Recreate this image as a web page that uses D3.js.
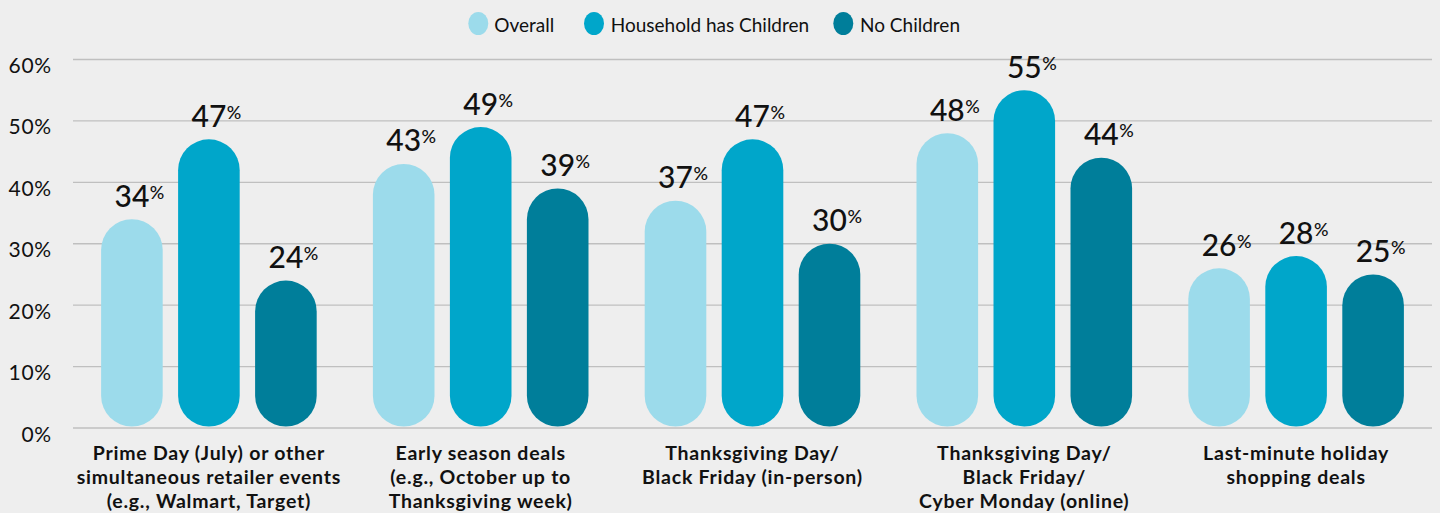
<!DOCTYPE html>
<html>
<head>
<meta charset="utf-8">
<script src="https://cdn.jsdelivr.net/npm/d3@7"></script>
<style>
  html, body { margin: 0; padding: 0; background: #eeeeee; }
  svg { display: block; }
  text { font-family: Lato, "Noto Sans", sans-serif; fill: #111; }
</style>
</head>
<body>
<svg id="chart" width="1440" height="513"></svg>
<script>
// Holiday shopping event participation by household type
const categories = [
  ["Prime Day (July) or other", "simultaneous retailer events", "(e.g., Walmart, Target)"],
  ["Early season deals", "(e.g., October up to", "Thanksgiving week)"],
  ["Thanksgiving Day/", "Black Friday (in-person)"],
  ["Thanksgiving Day/", "Black Friday/", "Cyber Monday (online)"],
  ["Last-minute holiday", "shopping deals"]
];
const seriesNames = ["Overall", "Household has Children", "No Children"];
const overall = [34, 43, 37, 48, 26];
const withChildren = [47, 49, 47, 55, 28];
const noChildren = [24, 39, 30, 44, 25];
const yTicks = [0, 10, 20, 30, 40, 50, 60];
const colors = ["#9cdbeb", "#00a6ca", "#007e9a"];

const seriesValues = [overall, withChildren, noChildren];
const rows = categories.map((c, i) => ({
  idx: i,
  lines: c,
  values: seriesValues.map((s, k) => ({ k, v: s[i] }))
}));

const svg = d3.select("#chart");
const plotLeft = 73, plotRight = 1432, plotTop = 59.5, plotBottom = 428;

const x0 = d3.scaleBand().domain(d3.range(categories.length)).range([plotLeft, plotRight]).padding(0);
const x1 = d3.scaleBand().domain(d3.range(seriesNames.length))
  .range([0, x0.bandwidth()]).paddingInner(0.2).paddingOuter(0.365);
const y = d3.scaleLinear().domain([0, 60]).range([plotBottom, plotTop]);
const color = d3.scaleOrdinal().domain(d3.range(3)).range(colors);

// Gridlines
svg.append("g").selectAll("line").data(yTicks).join("line")
  .attr("x1", plotLeft).attr("x2", plotRight)
  .attr("y1", d => y(d)).attr("y2", d => y(d))
  .attr("stroke", "#bfbfbf").attr("stroke-width", 1.3);

// Y axis labels
svg.append("g").selectAll("text").data(yTicks).join("text")
  .attr("x", 52).attr("y", d => y(d) + 13.5)
  .attr("text-anchor", "end")
  .style("font-size", "21px").style("font-weight", 400)
  .style("letter-spacing", "0.8px")
  .text(d => d + "%");

// Pill-shaped bars
const groups = svg.append("g").selectAll("g").data(rows).join("g")
  .attr("transform", d => `translate(${x0(d.idx)},0)`);

const bw = x1.bandwidth();
groups.selectAll("rect").data(d => d.values).join("rect")
  .attr("x", d => x1(d.k))
  .attr("y", d => y(d.v))
  .attr("width", bw)
  .attr("height", d => y(0) - 1.5 - y(d.v))
  .attr("rx", bw / 2).attr("ry", bw / 2)
  .attr("fill", d => color(d.k));

// Value labels: number centred over the bar, smaller raised % after it
groups.each(function(row) {
  const g = d3.select(this);
  row.values.forEach(d => {
    const cx = x1(d.k) + bw / 2;
    const by = y(d.v) - 12.5;
    const num = g.append("text")
      .attr("x", cx).attr("y", by)
      .attr("text-anchor", "middle")
      .style("font-size", "30px").style("font-weight", 500)
      .text(d.v);
    const w = num.node().getComputedTextLength();
    g.append("text")
      .attr("x", cx + w / 2 + 0.5).attr("y", by - 8)
      .style("font-size", "18px").style("font-weight", 500)
      .text("%");
  });
});

// Category labels, one text per line
groups.each(function(row) {
  const g = d3.select(this);
  row.lines.forEach((line, i) => {
    g.append("text")
      .attr("x", x0.bandwidth() / 2)
      .attr("y", 460 + i * 24)
      .attr("text-anchor", "middle")
      .style("font-size", "19.5px").style("font-weight", 700)
      .style("letter-spacing", "0.75px")
      .text(line);
  });
});

// Legend
const legendItems = [
  { k: 0, cx: 478.3, tx: 494.3 },
  { k: 1, cx: 594, tx: 610.7 },
  { k: 2, cx: 843.3, tx: 860 }
];
const legend = svg.append("g");
legend.selectAll("ellipse").data(legendItems).join("ellipse")
  .attr("cx", d => d.cx).attr("cy", 23.5)
  .attr("rx", 10).attr("ry", 11.5)
  .attr("fill", d => color(d.k));
legend.selectAll("text").data(legendItems).join("text")
  .attr("x", d => d.tx).attr("y", 31.5)
  .style("font-size", "19px")
  .text(d => seriesNames[d.k]);
</script>
</body>
</html>
